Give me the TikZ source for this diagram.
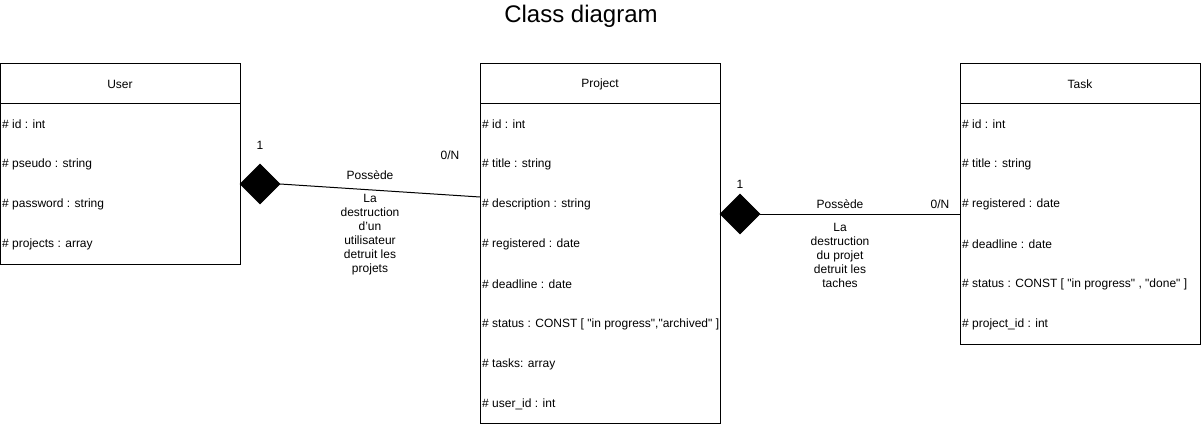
\documentclass[tikz,border=0pt]{standalone}
\usepackage{fontspec}
\setmainfont{Liberation Sans}
\usetikzlibrary{positioning, shapes.geometric}
\newcommand{\dq}{\textquotedbl}

\begin{document}
\begin{tikzpicture}[
    x=1pt, y=-1pt,
    header/.style={rectangle, draw, line width=1pt, minimum width=240pt, minimum height=40pt, inner sep=0pt, outer sep=0pt, font=\fontsize{12}{14}\selectfont},
    body/.style={rectangle, draw, line width=1pt, minimum width=240pt, inner sep=0pt, outer sep=0pt},
    attr/.style={anchor=west, inner sep=0pt, font=\fontsize{12}{14}\selectfont},
    lbl/.style={font=\fontsize{12}{14}\selectfont, align=center, inner sep=0pt},
    compo/.style={diamond, fill=black, draw=black, minimum width=40pt, minimum height=40pt, inner sep=0pt, outer sep=0pt},
    link/.style={line width=1pt},
]
\useasboundingbox (0,0) rectangle (1201,425);

\node[font=\fontsize{24}{28}\selectfont] (title) at (581,16) {Class diagram};

% User
\node[header] (user) at (120,84) {User};
\node[body, minimum height=160pt, below=0pt of user] (userbody) {};
\foreach \t [count=\i] in {{\# id : int}, {\# pseudo : string}, {\# password : string}, {\# projects : array}}
  \node[attr] at ([xshift=2pt, yshift=-\i*40pt+20pt]userbody.north west) {\t};

% Project
\node[header] (project) at (600,84) {Project};
\node[body, minimum height=319.5pt, below=0pt of project] (projectbody) {};
\foreach \t [count=\i] in {{\# id : int}, {\# title : string}, {\# description : string}, {\# registered : date}, {\# deadline : date}, {\# status : CONST [ \dq in progress\dq,\dq archived\dq\ ]}, {\# tasks: array}, {\# user\_id : int}}
  \node[attr] at ([xshift=2pt, yshift=-\i*40pt+20pt]projectbody.north west) {\t};

% Task
\node[header] (task) at (1080,84) {Task};
\node[body, minimum height=240pt, below=0pt of task] (taskbody) {};
\foreach \t [count=\i] in {{\# id : int}, {\# title : string}, {\# registered : date}, {\# deadline : date}, {\# status : CONST [ \dq in progress\dq\ , \dq done\dq\ ]}, {\# project\_id : int}}
  \node[attr] at ([xshift=2pt, yshift=-\i*40pt+20pt]taskbody.north west) {\t};

% User -- Project
\node[compo, right=0pt of userbody] (userdia) {};
\coordinate (projin) at (480,197);
\draw[link] (userdia.east) -- (projin);
\node[lbl] (usermult) at (260,145) {1};
\node[lbl] (projmult) at (450,155) {0/N};
\node[lbl] (userrel) at (370,175) {Possède};
\node[lbl] (usernote) at (370,235) {La\\destruction\\d'un\\utilisateur\\detruit les\\projets};

% Project -- Task
\node[compo] (projdia) at (740,214) {};
\coordinate (taskin) at (960,214);
\draw[link] (projdia.east) -- (taskin);
\node[lbl] (projmult2) at (740,184) {1};
\node[lbl] (taskmult) at (940,204) {0/N};
\node[lbl] (projrel) at (840,204) {Possède};
\node[lbl] (projnote) at (840,255) {La\\destruction\\du projet\\detruit les\\taches};
\end{tikzpicture}
\end{document}
